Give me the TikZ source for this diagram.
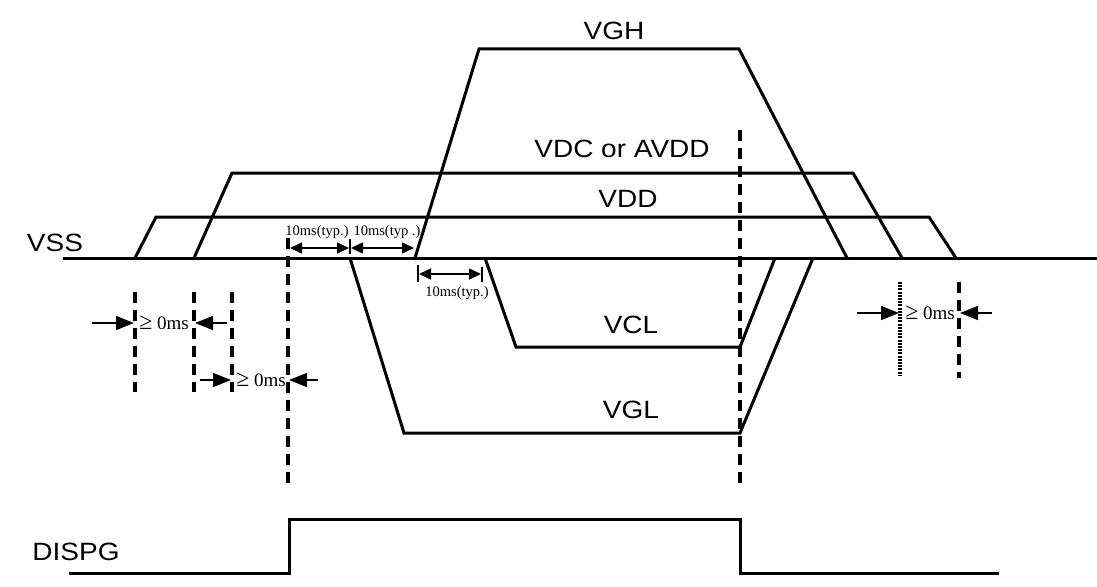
\documentclass[tikz,border=0pt]{standalone}
\usepackage{fontspec}
\setmainfont{Liberation Serif}
\newfontfamily\railfont{Liberation Sans}
\usepackage{graphicx}
\usepackage{tikz}
\usetikzlibrary{arrows.meta}
\newcommand{\railname}[1]{\scalebox{1.12}[1]{#1}}
\newcommand{\atleast}{\raisebox{-0.5pt}{\scalebox{1.25}{≥}}}

\tikzset{
  wave/.style={line width=3pt, line join=miter},
  guide/.style={line width=3.2pt, dash pattern=on 11pt off 7pt},
  dotguide/.style={line width=3.2pt, dash pattern=on 2pt off 1.2pt},
  rail/.style={font={\railfont\fontsize{25}{30}\selectfont}, inner sep=0pt},
  gapnote/.style={font={\fontsize{19}{22}\selectfont}, inner sep=0pt},
  typnote/.style={font={\fontsize{14.5}{17}\selectfont}, inner sep=0pt},
  gaparrow/.style={line width=1.5pt, -{Triangle[length=18pt,width=14pt]}},
  typarrow/.style={line width=1.5pt, {Triangle[length=12pt,width=11pt]}-{Triangle[length=12pt,width=11pt]}},
  tickbar/.style={line width=1.8pt},
}

\begin{document}
\begin{tikzpicture}[x=1pt, y=-1pt]
  \useasboundingbox (0,0) rectangle (1097,586);
  % supply rails
  \draw[wave] (63,258) -- (1097,258);                               % VSS
  \draw[wave] (135,258) -- (156,217) -- (929,217) -- (956,258);     % VDD
  \draw[wave] (194,258) -- (232,173) -- (853,173) -- (902,258);     % VDC or AVDD
  \draw[wave] (415,258) -- (479,49) -- (739,49) -- (847,258);       % VGH
  \draw[wave] (485,258) -- (516,347) -- (740,347) -- (775,258);     % VCL
  \draw[wave] (350,258) -- (404,433) -- (740,433) -- (813,258);     % VGL
  \draw[wave] (69,573) -- (289,573) -- (289,519) -- (740,519) -- (740,573) -- (999,573); % DISPG

  \node[rail] (vgh) at (614,31) {\railname{VGH}};
  \node[rail] (vdc) at (622,149) {\railname{VDC or AVDD}};
  \node[rail] (vdd) at (628,199) {\railname{VDD}};
  \node[rail] (vss) at (55,243) {\railname{VSS}};
  \node[rail] (vcl) at (631,325) {\railname{VCL}};
  \node[rail] (vgl) at (631,410) {\railname{VGL}};
  \node[rail] (dispg) at (76,552) {\railname{DISPG}};

  % guide lines
  \draw[guide] (288,238) -- (288,490);
  \draw[guide] (740,130) -- (740,490);
  \foreach \gx in {135,194,232}
    \draw[guide] (\gx,292) -- (\gx,392);
  \draw[dotguide] (900,282) -- (900,375);
  \draw[guide] (959,282) -- (959,378);

  % >= 0ms gaps
  \coordinate (pa) at (134,323);  \coordinate (pb) at (195,323);
  \coordinate (pc) at (231,380);  \coordinate (pd) at (289,380);
  \coordinate (pe) at (899,313);  \coordinate (pf) at (960,313);
  \draw[gaparrow] ([xshift=-42pt]pa) -- (pa);
  \draw[gaparrow] ([xshift=32pt]pb) -- (pb);
  \draw[gaparrow] ([xshift=-31pt]pc) -- (pc);
  \draw[gaparrow] ([xshift=29pt]pd) -- (pd);
  \draw[gaparrow] ([xshift=-42pt]pe) -- (pe);
  \draw[gaparrow] ([xshift=32pt]pf) -- (pf);
  \node[gapnote] (gapA) at (164,323) {\atleast\ 0ms};
  \node[gapnote] (gapB) at (261,380) {\atleast\ 0ms};
  \node[gapnote] (gapC) at (930,313) {\atleast\ 0ms};

  % 10ms spacing
  \coordinate (ta) at (290,248);  \coordinate (tb) at (350,248);  \coordinate (tc) at (414,248);
  \coordinate (td) at (418,274);  \coordinate (te) at (482,274);
  \draw[tickbar] (350,239) -- (350,254);
  \draw[tickbar] (418,265) -- (418,282);
  \draw[tickbar] (482,267) -- (482,282);
  \draw[typarrow] (ta) -- ([xshift=-1pt]tb);
  \draw[typarrow] ([xshift=1pt]tb) -- (tc);
  \draw[typarrow] ([xshift=1pt]td) -- ([xshift=-1pt]te);
  \node[typnote] (typA) at (317,232) {10ms(typ.)};
  \node[typnote] (typB) at (387,232) {10ms(typ .)};
  \node[typnote] (typC) at (457,293) {10ms(typ.)};
\end{tikzpicture}
\end{document}
